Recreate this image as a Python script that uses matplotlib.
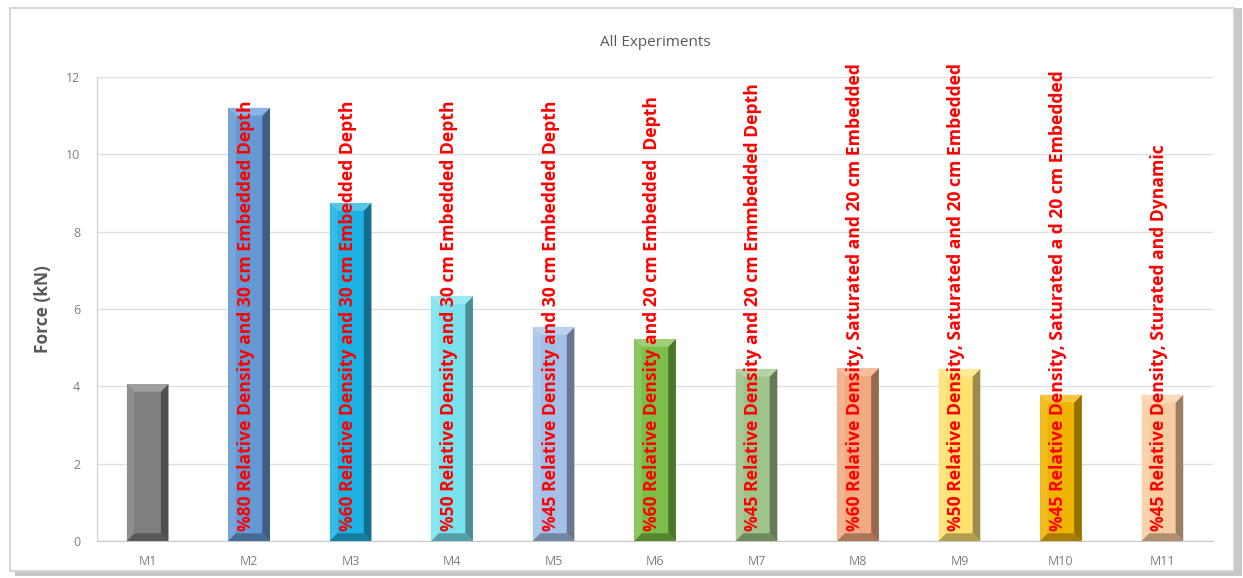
import matplotlib.pyplot as plt
from matplotlib.patches import Polygon, Rectangle
import matplotlib.colors as mcolors

# dados
models = ['M1', 'M2', 'M3', 'M4', 'M5', 'M6', 'M7', 'M8', 'M9', 'M10', 'M11']
force = [4.06, 11.2, 8.74, 6.33, 5.53, 5.22, 4.45, 4.47, 4.45, 3.78, 3.78]
notes = ['',
         '%80 Relative Density and 30 cm Embedded Depth',
         '%60 Relative Density and 30 cm Embedded Depth',
         '%50 Relative Density and 30 cm Embedded Depth',
         '%45 Relative Density and 30 cm Embedded Depth',
         '%60 Relative Density and 20 cm Embedded  Depth',
         '%45 Relative Density and 20 cm Emmbedded Depth',
         '%60 Relative Density, Saturated and 20 cm Embedded',
         '%50 Relative Density, Saturated and 20 cm Embedded',
         '%45 Relative Density, Saturated a d 20 cm Embedded',
         '%45 Relative Density, Sturated and Dynamic']
face_colors = ['#7f7f7f', '#6499d4', '#1cb2e4', '#78e3ef', '#a3c1e8', '#7cbf48',
               '#9ec489', '#f3aa82', '#fde272', '#efb400', '#f8cda2']

plt.rcParams['font.family'] = ['Open Sans', 'DejaVu Sans']

fig = plt.figure(figsize=(12.43, 5.78), dpi=100)
ax = fig.add_axes([0.078, 0.064, 0.898, 0.803])

# moldura do grafico com sombra
fig.patches.append(Rectangle((0.012, 0.004), 0.987, 0.982, transform=fig.transFigure,
                             facecolor='#c8c8c8', edgecolor='none', zorder=-3))
fig.patches.append(Rectangle((0.008, 0.012), 0.985, 0.974, transform=fig.transFigure,
                             facecolor='white', edgecolor='#d0d0d0', lw=1.2, zorder=-2))

x = list(range(len(models)))
bars = ax.bar(x, force, width=0.41, color=face_colors, zorder=2)


def shade(c, f):
    r, g, b = mcolors.to_rgb(c)
    if f < 1:
        return (r * f, g * f, b * f)
    f = f - 1
    return (r + (1 - r) * f, g + (1 - g) * f, b + (1 - b) * f)


# efeito de chanfro (bevel) nas barras
bx = 0.075
by = 0.2
for rect, col in zip(bars, face_colors):
    x0 = rect.get_x()
    x1 = x0 + rect.get_width()
    y1 = rect.get_height()
    left = [(x0, 0), (x0 + bx, by), (x0 + bx, y1 - by), (x0, y1)]
    right = [(x1, 0), (x1 - bx, by), (x1 - bx, y1 - by), (x1, y1)]
    top = [(x0, y1), (x0 + bx, y1 - by), (x1 - bx, y1 - by), (x1, y1)]
    bottom = [(x0, 0), (x0 + bx, by), (x1 - bx, by), (x1, 0)]
    ax.add_patch(Polygon(left, closed=True, color=shade(col, 1.12), lw=0, zorder=3))
    ax.add_patch(Polygon(right, closed=True, color=shade(col, 0.62), lw=0, zorder=3))
    ax.add_patch(Polygon(top, closed=True, color=shade(col, 1.25), lw=0, zorder=3))
    ax.add_patch(Polygon(bottom, closed=True, color=shade(col, 0.7), lw=0, zorder=3))

# textos verticais em vermelho
for xi, txt in zip(x, notes):
    ax.text(xi - 0.03, 0.25, txt, rotation=90, ha='center', va='bottom',
            color='#ff0000', fontsize=12.6, fontweight='bold', zorder=5)

ax.set_ylim(0, 12)
ax.set_xlim(-0.5, len(models) - 0.5)
ax.set_yticks(range(0, 13, 2))
ax.set_xticks(x)
ax.set_xticklabels(models)
ax.yaxis.grid(True, color='#e0e0e0', lw=1, zorder=0)
ax.set_axisbelow(True)
for s in ['top', 'right']:
    ax.spines[s].set_visible(False)
ax.spines['left'].set_color('#d0d0d0')
ax.spines['bottom'].set_color('#c8c8c8')
ax.tick_params(length=0, colors='#7f7f7f', labelsize=9, pad=12)
ax.tick_params(axis='x', pad=10)

ax.set_ylabel('Force (kN)', fontsize=12.5, fontweight='bold', color='#595959', labelpad=10)
ax.set_title('All Experiments', fontsize=11, color='#595959', pad=22)

fig.savefig('out.png', dpi=100)
